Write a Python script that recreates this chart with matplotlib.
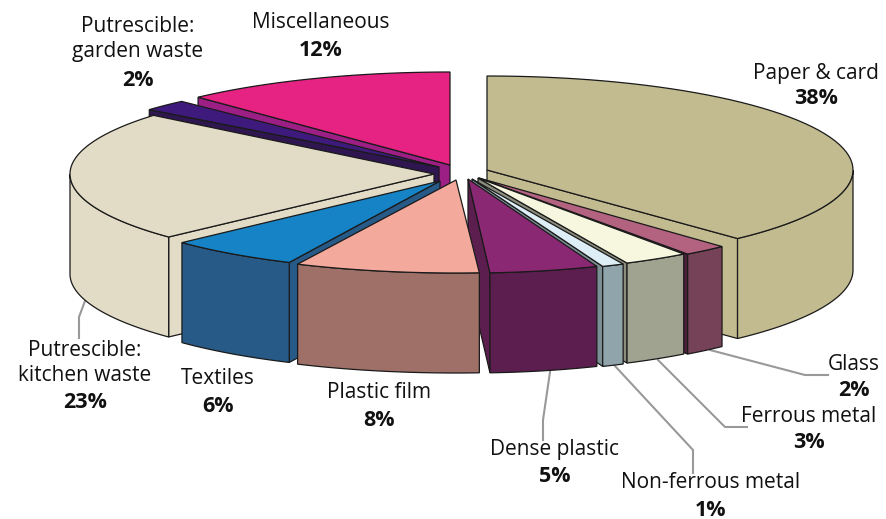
import numpy as np
import matplotlib
matplotlib.use('Agg')
import matplotlib.pyplot as plt

plt.rcParams['font.family'] = ['Open Sans', 'DejaVu Sans']

names = ['Paper & card', 'Glass', 'Ferrous metal', 'Non-ferrous metal', 'Dense plastic',
         'Plastic film', 'Textiles', 'Putrescible:\nkitchen waste', 'Putrescible:\ngarden waste',
         'Miscellaneous']
values = [38, 2, 3, 1, 5, 8, 6, 23, 2, 12]

top_colors = ['#C2BB90', '#B36380', '#F7F7E0', '#DDEEF7', '#8B2873',
              '#F3A99C', '#1583C5', '#E2DCC6', '#3F1A7D', '#E62283']
wall_colors = ['#C2BB90', '#764258', '#A0A390', '#8FA4AB', '#5C1E4E',
               '#9E7068', '#275A87', '#E2DCC6', '#2F1650', '#9C1F85']
face_colors = ['#C2BB90', '#4A1F3A', '#8B8D7D', '#7C8F95', '#5C1E4E',
               '#9E7068', '#275A87', '#E2DCC6', '#2F1650', '#9C1F85']

# where each exploded slice sits, in picture pixels: apex x, apex y, radius x, radius y
cx = [487, 479, 478, 472, 468, 456, 440, 434, 439, 450]
cy = [170, 178, 178, 179, 179, 180, 181, 174, 167, 165]
rx = [366, 355, 350, 355, 350, 372, 354, 364, 376, 368]
ry = [94, 94, 94, 94, 94, 93, 90, 92, 90, 93]
depth = 100

# back to front
draw_order = [9, 8, 7, 6, 0, 1, 2, 3, 4, 5]

# label centre x, name y, percent y
label_x = [816, 854, 809, 711, 555, 379, 218, 85, 138, 321]
name_y = [73, 364, 416, 483, 450, 393, 379, 363, 39, 23]
pct_y = [99, 391, 443, 510, 477, 421, 406, 403, 80, 50]

leaders = [
    ([85, 79, 79], [301, 317, 338]),
    ([550, 543, 543], [372, 420, 440]),
    ([615, 693, 693], [366, 450, 473]),
    ([658, 725, 747], [360, 427, 427]),
    ([710, 805, 828], [350, 375, 375]),
]

fig = plt.figure(figsize=(8.86, 5.19), dpi=100)
ax = fig.add_axes([0, 0, 1, 1])
ax.set_xlim(0, 886)
ax.set_ylim(519, 0)
ax.axis('off')

edges = np.cumsum([0] + values) / sum(values) * 360


def arc(i, a, b):
    t = np.radians(np.linspace(a, b, 60))
    return cx[i] + rx[i] * np.sin(t), cy[i] - ry[i] * np.cos(t)


for xs, ys in leaders:
    ax.plot(xs, ys, color='#999999', lw=1.5, zorder=1)

for n, i in enumerate(draw_order):
    z = 2 + n
    a, b = edges[i], edges[i + 1]
    lc = '#1a1a1a'

    # cut faces that look towards the viewer
    if b < 180:
        x0, y0 = arc(i, b, b)
        ax.fill([cx[i], x0[0], x0[0], cx[i]], [cy[i], y0[0], y0[0] + depth, cy[i] + depth],
                fc=face_colors[i], ec=lc, lw=0.9, zorder=z)
    if a > 180:
        x0, y0 = arc(i, a, a)
        ax.fill([cx[i], x0[0], x0[0], cx[i]], [cy[i], y0[0], y0[0] + depth, cy[i] + depth],
                fc=face_colors[i], ec=lc, lw=0.9, zorder=z)

    # outer wall, front half only
    lo, hi = max(a, 90), min(b, 270)
    if lo < hi:
        xw, yw = arc(i, lo, hi)
        ax.fill(np.r_[xw, xw[::-1]], np.r_[yw, yw[::-1] + depth],
                fc=wall_colors[i], ec=lc, lw=0.9, zorder=z)

    xt, yt = arc(i, a, b)
    ax.fill(np.r_[cx[i], xt], np.r_[cy[i], yt], fc=top_colors[i], ec=lc, lw=0.9, zorder=z)

for i in range(len(names)):
    ax.text(label_x[i], name_y[i], names[i], ha='center', va='center', fontsize=15,
            linespacing=1.25, color='#111111', zorder=30)
    ax.text(label_x[i], pct_y[i], f'{values[i]}%', ha='center', va='center', fontsize=15.5,
            fontweight='bold', color='#111111', zorder=30)

fig.savefig('out.png', dpi=100)
